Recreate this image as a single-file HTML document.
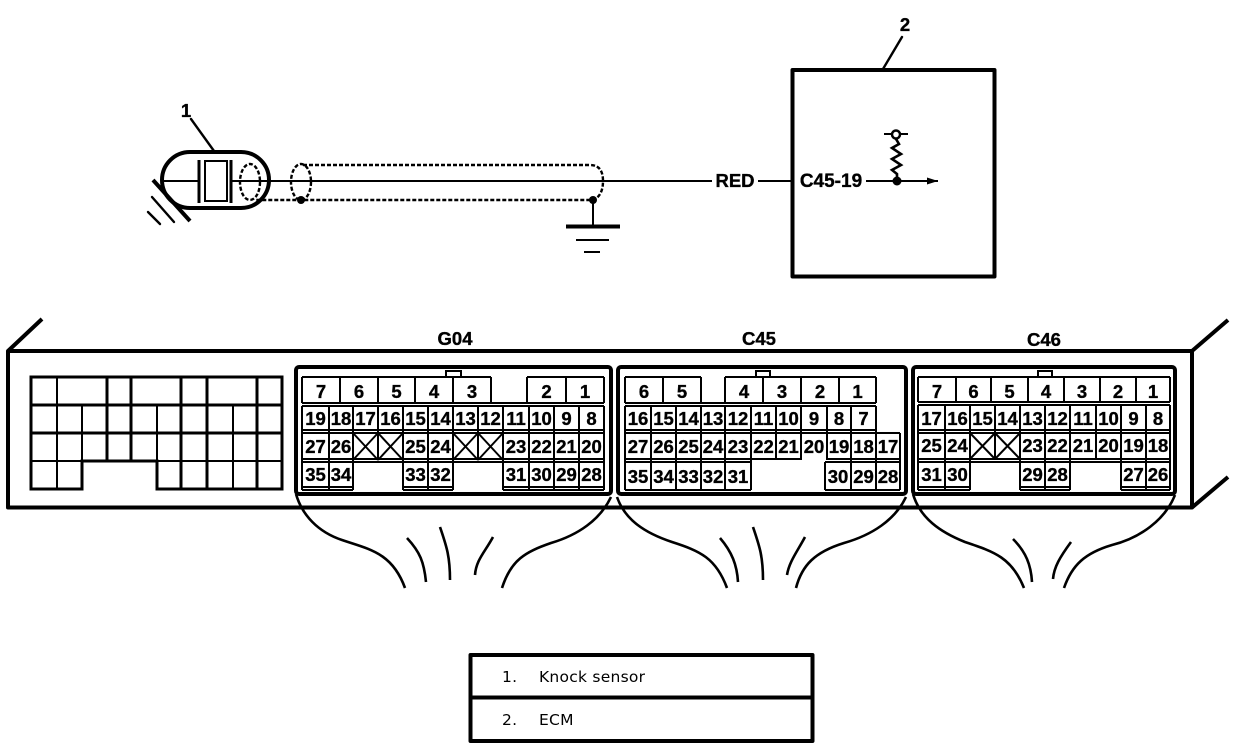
<!DOCTYPE html>
<html><head><meta charset="utf-8"><style>
html,body{margin:0;padding:0;background:#fff;width:1248px;height:752px;overflow:hidden}
svg{display:block}
.l{fill:none;stroke:#000;stroke-width:2}
.c{shape-rendering:crispEdges}
.u{fill:none;stroke:#000;stroke-width:2.600}
.t{fill:none;stroke:#000;stroke-width:2.400;stroke-linecap:round}
.h{fill:none;stroke:#000;stroke-width:4;stroke-linejoin:round}
.d{fill:none;stroke:#000;stroke-width:2.400;stroke-dasharray:4 2}
.n text,text.b{font-family:"Liberation Sans",sans-serif;font-weight:bold;font-size:18.500px;text-anchor:middle;fill:#000;stroke:#000;stroke-width:.35px}
text.m{font-family:"DejaVu Sans",sans-serif;font-size:15.500px;fill:#000;letter-spacing:.25px}
</style></head><body>
<svg width="1248" height="752" viewBox="0 0 1248 752" xmlns="http://www.w3.org/2000/svg">
<!-- sensor -->
<text class="b" x="186" y="117">1</text>
<path class="t" d="M191 119L214 151"/>
<rect x="162" y="152" width="107" height="56" rx="28" class="l" style="stroke-width:4"/>
<path class="l c" d="M161 181H199M231 181H712M758 181H791"/>
<path class="l c" style="stroke-width:3" d="M199 160V203M231 160V203"/>
<rect x="205" y="161" width="22" height="40" class="l c"/>
<ellipse cx="250" cy="182" rx="10" ry="18" class="d"/>
<ellipse cx="301" cy="182" rx="10" ry="18" class="d"/>
<path class="d" d="M303 165H590Q603 165 603 181Q603 196 593 200H255"/>
<circle cx="301" cy="200" r="4"/><circle cx="593" cy="200" r="4"/>
<path class="h" d="M153 180L190 221"/>
<path class="t" d="M152 197L174 222M148 212L160 224"/>
<path class="l c" d="M593 200V226"/>
<path d="M566 226.500H620" class="h c"/>
<path class="l c" d="M576 240H609M584 252H600"/>
<text class="b" x="735" y="187">RED</text>
<!-- ECM -->
<text class="b" x="905" y="31">2</text>
<path class="t" d="M902 37L883 69"/>
<rect x="792.500" y="70" width="202" height="206.500" class="h"/>
<text class="b" x="831" y="187" style="font-size:19px">C45-19</text>
<path class="l c" d="M866 181H938M884 134H908"/>
<path d="M938 181L927 177.500V184.500Z"/>
<circle cx="897" cy="181" r="4.500"/>
<circle cx="896" cy="134.500" r="4" fill="#fff" stroke="#000" stroke-width="2.500"/>
<path class="u" d="M896 139L899 144L892 148L901 154L892 159L901 165L892 170L897 174V181"/>
<!-- module body -->
<path class="h" d="M42 319L8 351V507.500H1192V351H8M1192 351L1228 320M1192 507.500L1228 477"/>
<!-- left grid -->
<path class="l c" style="stroke-width:3" d="M31 377H282V489H157V461H82V489H31ZM31 405H282M31 433H282"/>
<path class="l c" d="M31 461H282M57 377V489M82 405V489M157 405V489M233 405V489"/>
<path class="l c" style="stroke-width:3" d="M107 377V461M131 377V461M181 377V489M207 377V489M257 377V489"/>
<!-- G04 -->
<text class="b" x="455" y="345">G04</text>
<rect x="296" y="367" width="315" height="127" rx="3" class="h"/>
<rect x="446" y="371" width="15" height="6" class="l c"/>
<path class="l c" d="M302 377H491M527 377H604M302 403H604M302 406H604M302 430H604M302 433H604M302 459H604M302 462H604M302 487H353M302 490H353M403 487H453M403 490H453M503 487H604M503 490H604
M302 377V403M340 377V403M378 377V403M415 377V403M453 377V403M491 377V403M527 377V403M566 377V403M604 377V403
M302 406V490M329 406V490M353 406V490M378 406V460M403 406V490M428 406V490M453 406V490M478 406V460M503 406V490M529 406V490M554 406V490M579 406V490M604 406V490"/>
<path class="l" d="M353 433L378 460M378 433L353 460M378 433L403 460M403 433L378 460M453 433L478 460M478 433L453 460M478 433L503 460M503 433L478 460"/>
<g class="n">
<text x="321" y="398">7</text><text x="359" y="398">6</text><text x="396.500" y="398">5</text><text x="434" y="398">4</text><text x="472" y="398">3</text><text x="546.500" y="398">2</text><text x="585" y="398">1</text>
<text x="315.500" y="425">19</text><text x="341" y="425">18</text><text x="365.500" y="425">17</text><text x="390.500" y="425">16</text><text x="415.500" y="425">15</text><text x="440.500" y="425">14</text><text x="465.500" y="425">13</text><text x="490.500" y="425">12</text><text x="516" y="425">11</text><text x="541.500" y="425">10</text><text x="566.500" y="425">9</text><text x="591.500" y="425">8</text>
<text x="315.500" y="453">27</text><text x="341" y="453">26</text><text x="415.500" y="453">25</text><text x="440.500" y="453">24</text><text x="516" y="453">23</text><text x="541.500" y="453">22</text><text x="566.500" y="453">21</text><text x="591.500" y="453">20</text>
<text x="315.500" y="481">35</text><text x="341" y="481">34</text><text x="415.500" y="481">33</text><text x="440.500" y="481">32</text><text x="516" y="481">31</text><text x="541.500" y="481">30</text><text x="566.500" y="481">29</text><text x="591.500" y="481">28</text>
</g>
<!-- C45 -->
<text class="b" x="759" y="345">C45</text>
<rect x="618" y="367" width="288" height="127" rx="3" class="h"/>
<rect x="756" y="371" width="14" height="6" class="l c"/>
<path class="l c" d="M625 377H701M725 377H876M625 403H876M625 406H876M625 430H876M625 433H900M625 459H801M827 459H900M625 462H751M825 462H900M625 490H751M825 490H900
M625 377V403M663 377V403M701 377V403M725 377V403M763 377V403M801 377V403M839 377V403M876 377V403
M625 406V490M651 406V490M676 406V490M701 406V490M725 406V490M751 406V490M776 406V460M801 406V460M827 406V460M851 406V490M876 406V490M900 433V490M825 462V490"/>
<g class="n">
<text x="644" y="398">6</text><text x="682" y="398">5</text><text x="744" y="398">4</text><text x="782" y="398">3</text><text x="820" y="398">2</text><text x="857.500" y="398">1</text>
<text x="638" y="425">16</text><text x="663.500" y="425">15</text><text x="688.500" y="425">14</text><text x="713" y="425">13</text><text x="738" y="425">12</text><text x="763.500" y="425">11</text><text x="788.500" y="425">10</text><text x="814" y="425">9</text><text x="839" y="425">8</text><text x="863.500" y="425">7</text>
<text x="638" y="453">27</text><text x="663.500" y="453">26</text><text x="688.500" y="453">25</text><text x="713" y="453">24</text><text x="738" y="453">23</text><text x="763.500" y="453">22</text><text x="788.500" y="453">21</text><text x="814" y="453">20</text><text x="839" y="453">19</text><text x="863.500" y="453">18</text><text x="888" y="453">17</text>
<text x="638" y="483">35</text><text x="663.500" y="483">34</text><text x="688.500" y="483">33</text><text x="713" y="483">32</text><text x="738" y="483">31</text><text x="838" y="483">30</text><text x="863.500" y="483">29</text><text x="888" y="483">28</text>
</g>
<!-- C46 -->
<text class="b" x="1044" y="346">C46</text>
<rect x="913" y="367" width="262" height="127" rx="3" class="h"/>
<rect x="1038" y="371" width="14" height="6" class="l c"/>
<path class="l c" d="M918 377H1170M918 402H1170M918 405H1170M918 430H1170M918 433H1170M918 459H1170M918 462H1170M918 487H970M918 490H970M1020 487H1070M1020 490H1070M1121 487H1170M1121 490H1170
M918 377V402M956 377V402M991 377V402M1028 377V402M1064 377V402M1100 377V402M1136 377V402M1170 377V402
M918 405V490M945 405V490M970 405V490M995 405V459M1020 405V490M1045 405V490M1070 405V490M1096 405V459M1121 405V490M1146 405V490M1170 405V490"/>
<path class="l" d="M970 433L995 459M995 433L970 459M995 433L1020 459M1020 433L995 459"/>
<g class="n">
<text x="937" y="398">7</text><text x="973.500" y="398">6</text><text x="1009.500" y="398">5</text><text x="1046" y="398">4</text><text x="1082" y="398">3</text><text x="1118" y="398">2</text><text x="1153" y="398">1</text>
<text x="931.500" y="425">17</text><text x="957.500" y="425">16</text><text x="982.500" y="425">15</text><text x="1007.500" y="425">14</text><text x="1032.500" y="425">13</text><text x="1057.500" y="425">12</text><text x="1083" y="425">11</text><text x="1108.500" y="425">10</text><text x="1133.500" y="425">9</text><text x="1158" y="425">8</text>
<text x="931.500" y="452">25</text><text x="957.500" y="452">24</text><text x="1032.500" y="452">23</text><text x="1057.500" y="452">22</text><text x="1083" y="452">21</text><text x="1108.500" y="452">20</text><text x="1133.500" y="452">19</text><text x="1158" y="452">18</text>
<text x="931.500" y="481">31</text><text x="957.500" y="481">30</text><text x="1032.500" y="481">29</text><text x="1057.500" y="481">28</text><text x="1133.500" y="481">27</text><text x="1158" y="481">26</text>
</g>
<!-- harness -->
<path class="u" d="M296 494C302 515 318 532 342 540C368 549 392 552 405 588"/>
<path class="u" d="M611 497C600 520 578 535 551 543C525 552 511 560 502 588"/>
<path class="u" d="M407 538C420 552 424 562 426 582M440 527C446 545 450 555 450 580M493 537C485 552 476 560 475 575"/>
<path class="u" d="M617 497C625 520 645 533 672 542C700 551 716 558 727 588"/>
<path class="u" d="M906 497C895 520 872 535 844 543C815 552 802 565 796 588"/>
<path class="u" d="M720 538C732 552 737 565 738 582M753 527C759 545 763 555 763 580M805 537C797 552 789 562 787 575"/>
<path class="u" d="M913 494C920 518 940 532 965 542C995 552 1012 558 1024 588"/>
<path class="u" d="M1175 495C1165 520 1140 538 1112 545C1085 553 1072 565 1064 588"/>
<path class="u" d="M1013 539C1026 552 1031 565 1032 582M1071 542C1060 557 1054 567 1053 579"/>
<!-- legend -->
<rect x="470.500" y="655" width="342" height="86" class="h"/>
<path class="h" d="M470 697.500H812"/>
<text class="m" x="502" y="682">1.</text><text class="m" x="539" y="682">Knock sensor</text>
<text class="m" x="502" y="725">2.</text><text class="m" x="539" y="725">ECM</text>
</svg>
</body></html>
